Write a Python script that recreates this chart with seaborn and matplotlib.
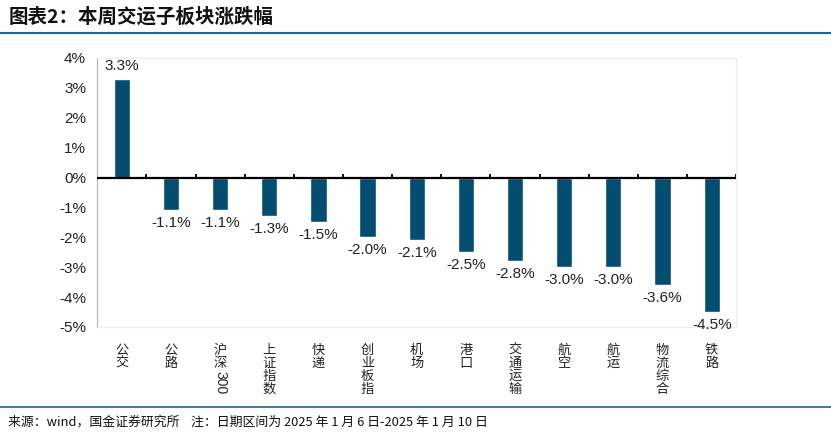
import numpy as np
import pandas as pd
import matplotlib
matplotlib.use("Agg")
import matplotlib.pyplot as plt
import seaborn as sns
from matplotlib.lines import Line2D

# ===============================
# DATA
# ===============================
categories = ["公交", "公路", "沪深300", "上证指数", "快递", "创业板指", "机场",
              "港口", "交通运输", "航空", "航运", "物流综合", "铁路"]
changes = [3.3, -1.1, -1.1, -1.3, -1.5, -2.0, -2.1, -2.5, -2.8, -3.0, -3.0, -3.6, -4.5]
y_ticks = [4, 3, 2, 1, 0, -1, -2, -3, -4, -5]

title_text = "图表2：本周交运子板块涨跌幅"
source_text = "来源：wind，国金证券研究所    注：日期区间为 2025 年 1 月 6 日-2025 年 1 月 10 日"

BAR_COLOR = "#024d70"
LINE_COLOR = "#1f6391"
CJK = ["Noto Sans CJK SC", "DejaVu Sans"]

# ===============================
# STYLE
# ===============================
sns.set_theme(style="white")
plt.rcParams["font.family"] = ["Liberation Sans", "Noto Sans CJK SC", "DejaVu Sans"]
plt.rcParams["axes.unicode_minus"] = False

df = pd.DataFrame({"cat": categories, "val": changes})

fig = plt.figure(figsize=(8.31, 4.36), dpi=100)
ax = fig.add_axes([0.117, 0.25, 0.769, 0.617])

sns.barplot(data=df, x="cat", y="val", color=BAR_COLOR, width=0.33,
            saturation=1, ax=ax)

ax.set_ylim(-5, 4)
ax.set_xlim(-0.5, len(categories) - 0.5)
ax.set_yticks(y_ticks)
ax.set_yticklabels([f"{t}%" for t in y_ticks], fontsize=11, color="#222222")


# vertical labels: CJK chars stacked, digit runs kept together (rotated later)
def split_label(name):
    han = "".join(ch for ch in name if not ch.isdigit())
    digits = "".join(ch for ch in name if ch.isdigit())
    return "\n".join(han), digits


split = [split_label(c) for c in categories]
ax.set_xticks(range(len(categories)))
ax.set_xticklabels([s[0] for s in split], fontsize=9.5, family=CJK,
                   color="#222222", va="top", linespacing=1.0)
ax.tick_params(axis="x", length=0, pad=12)
ax.tick_params(axis="y", length=0, pad=8)
ax.set_xlabel("")
ax.set_ylabel("")

for i, (han, digits) in enumerate(split):
    if digits:
        n_lines = han.count("\n") + 1
        ax.annotate(digits, (i, 0), xycoords=("data", "axes fraction"),
                    xytext=(0, -13 - 9.5 * n_lines), textcoords="offset points",
                    rotation=-90, ha="center", va="top", fontsize=10,
                    color="#222222")

for side in ["top", "right", "bottom"]:
    ax.spines[side].set_color("#ececec")
    ax.spines[side].set_linewidth(0.8)
ax.spines["left"].set_color("#b0b0b0")
ax.spines["left"].set_linewidth(0.8)

# zero line with small ticks between categories
ax.axhline(0, color="black", lw=1.6, zorder=3)
bounds = np.arange(len(categories) + 1) - 0.5
ax.vlines(bounds[1:], 0, 0.13, color="black", lw=1.3, zorder=3)

# value labels
for i, v in enumerate(changes):
    if v >= 0:
        ax.annotate(f"{v:.1f}%", (i, v), xytext=(0, 4), textcoords="offset points",
                    ha="center", va="bottom", fontsize=11, color="#222222")
    else:
        ax.annotate(f"{v:.1f}%", (i, v), xytext=(0, -4), textcoords="offset points",
                    ha="center", va="top", fontsize=11, color="#222222")

# title and footer
fig.text(0.01, 0.962, title_text, fontsize=14, fontweight="bold",
         family=CJK, color="#111111", ha="left", va="center")
fig.add_artist(Line2D([0.0, 1.0], [0.924, 0.924], color=LINE_COLOR, lw=1.5,
                      transform=fig.transFigure))
fig.add_artist(Line2D([0.0, 1.0], [0.066, 0.066], color=LINE_COLOR, lw=1.2,
                      transform=fig.transFigure))
fig.text(0.01, 0.032, source_text, fontsize=9.3, family=CJK, color="#111111",
         ha="left", va="center")

plt.savefig("out.png", dpi=100)
plt.close()
